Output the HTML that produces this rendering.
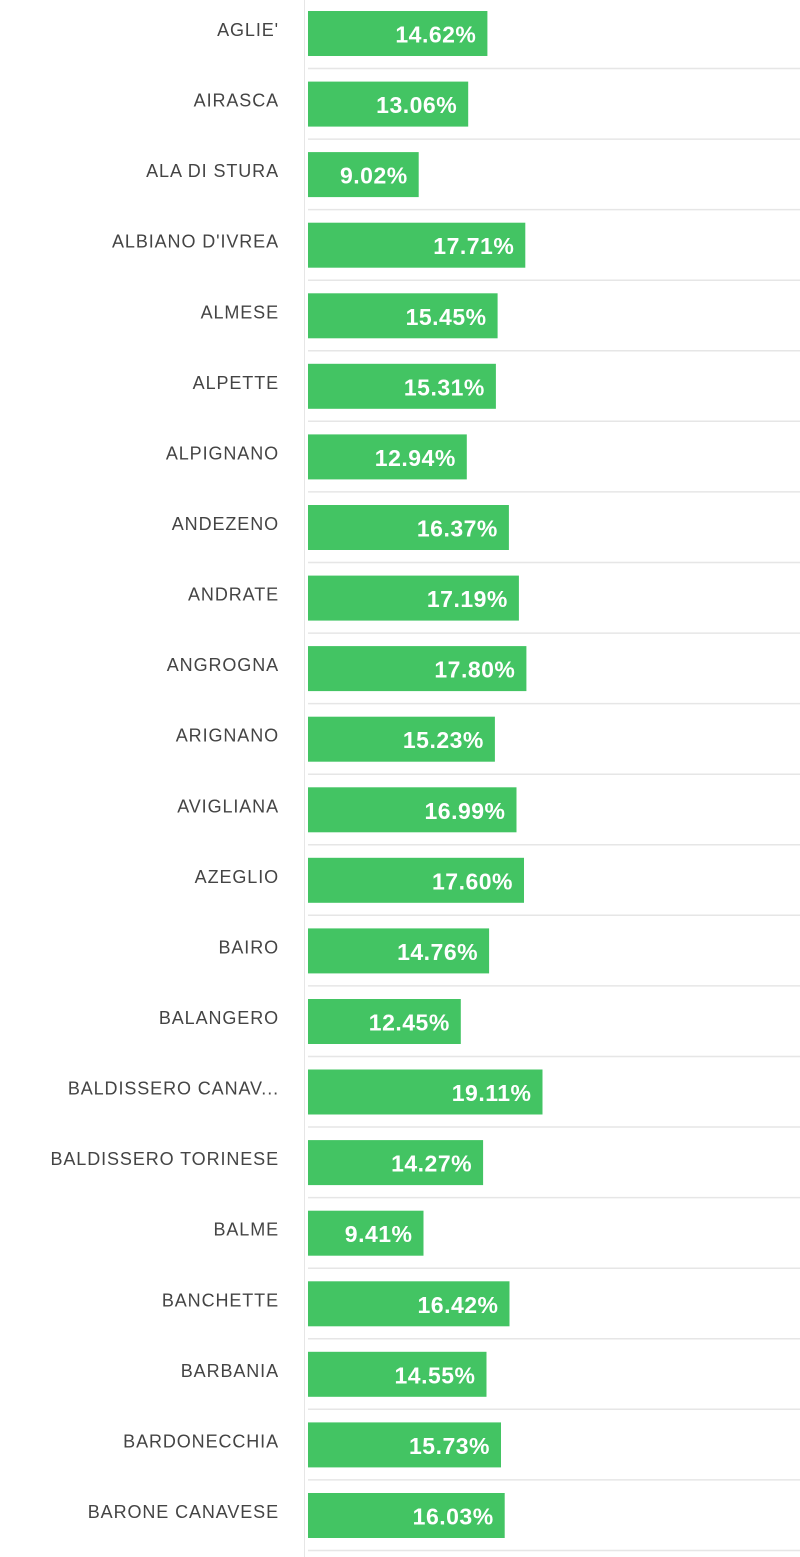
<!DOCTYPE html>
<html><head><meta charset="utf-8"><style>
html,body{margin:0;padding:0;background:#fff;}
svg{display:block;}
.l{font-family:"Liberation Sans",sans-serif;font-size:18px;letter-spacing:0.9px;fill:#444;text-anchor:end;}
.v{font-family:"Liberation Sans",sans-serif;font-size:23px;letter-spacing:0.5px;font-weight:bold;fill:#fff;text-anchor:end;}
</style></head><body>
<svg width="800" height="1557" xmlns="http://www.w3.org/2000/svg" id="s">
<line x1="304.5" y1="0" x2="304.5" y2="1557" stroke="#e6e6e6" stroke-width="1"/>
</svg>
<script>
var d=[["AGLIE'",14.62],["AIRASCA",13.06],["ALA DI STURA",9.02],["ALBIANO D'IVREA",17.71],["ALMESE",15.45],["ALPETTE",15.31],["ALPIGNANO",12.94],["ANDEZENO",16.37],["ANDRATE",17.19],["ANGROGNA",17.80],["ARIGNANO",15.23],["AVIGLIANA",16.99],["AZEGLIO",17.60],["BAIRO",14.76],["BALANGERO",12.45],["BALDISSERO CANAV...",19.11],["BALDISSERO TORINESE",14.27],["BALME",9.41],["BANCHETTE",16.42],["BARBANIA",14.55],["BARDONECCHIA",15.73],["BARONE CANAVESE",16.03]];
var s=document.getElementById('s'),h='';
d.forEach(function(r,i){var t=11+i*70.57,w=r[1]*12.27;
h+='<rect x="308" y="'+t.toFixed(1)+'" width="'+w.toFixed(1)+'" height="45" fill="#43c463"/>';
h+='<text class="v" x="'+(308+w-11).toFixed(1)+'" y="'+(t+31.5).toFixed(1)+'">'+r[1].toFixed(2)+'%</text>';
h+='<text class="l" x="279" y="'+(t+25).toFixed(1)+'">'+r[0]+'</text>';
h+='<line x1="308" x2="800" y1="'+(t+57.5).toFixed(1)+'" y2="'+(t+57.5).toFixed(1)+'" stroke="#e6e6e6" stroke-width="1.5"/>';});
s.insertAdjacentHTML('beforeend',h);
</script>
</body></html>
